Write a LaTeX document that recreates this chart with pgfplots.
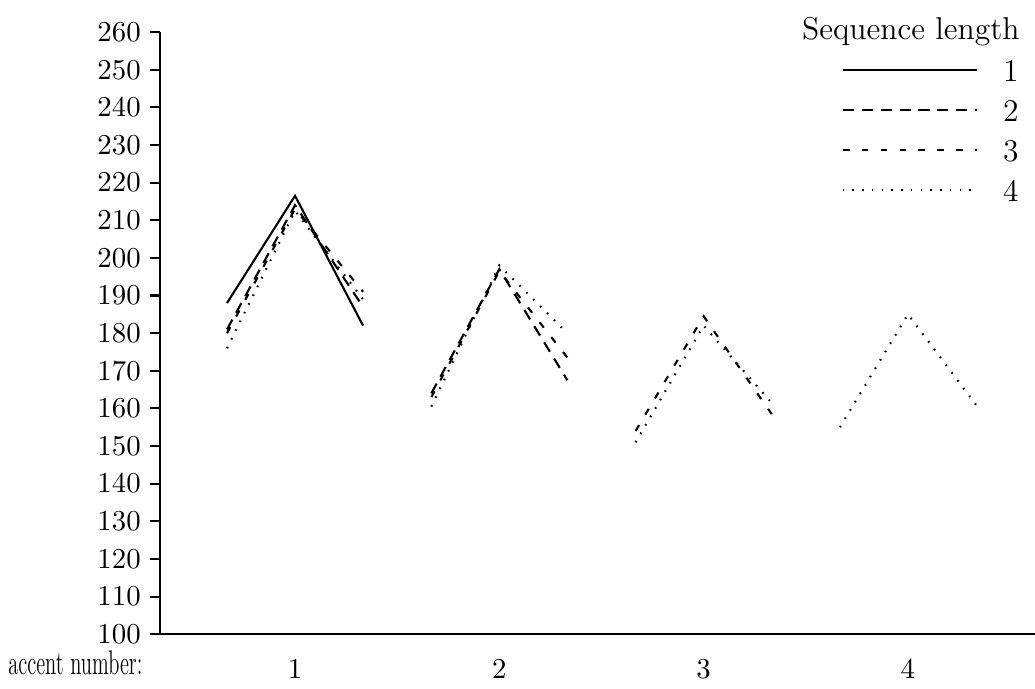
\documentclass[border=0pt]{standalone}
\usepackage{pgfplots}
\pgfplotsset{compat=1.18}
\begin{document}
\begin{tikzpicture}
\begin{axis}[
  scale only axis, width=332.5pt, height=228.8pt,
  xmin=0.339, xmax=4.622, ymin=100, ymax=260,
  axis x line=bottom, axis y line=left,
  axis line style={-, line width=0.8pt},
  ytick={100,110,...,260}, tick align=outside, major tick length=3.8pt,
  xtick={1,2,3,4}, x tick style={draw=none},
  y tick style={line width=0.8pt, black},
  tick label style={font=\fontsize{11}{13}\selectfont},
  xticklabel style={yshift=-2.6pt},
  clip=false,
  unbounded coords=jump,
  legend style={draw=none, fill=none, at={(rel axis cs:1,1)}, anchor=north east,
    xshift=-4pt, yshift=-8pt, inner sep=0pt, row sep=2.8pt, column sep=7.6pt,
    font=\fontsize{12}{14}\selectfont,
    nodes={inner sep=2pt, text height=8.4pt, text depth=0pt}},
  legend image code/.code={\draw[#1] (0pt,0pt) -- (51pt,0pt);},
  legend cell align=left,
]
\addplot[black, line width=0.8pt] coordinates {(0.667,188) (1,216.5) (1.333,182)};
\addlegendentry{1}
\addplot[black, line width=0.8pt, dash pattern=on 4.2pt off 3pt] coordinates {
 (0.667,181) (1,214) (1.333,187) (1.5,nan)
 (1.667,164) (2,197) (2.333,167.5)};
\addlegendentry{2}
\addplot[black, line width=0.8pt, dash pattern=on 2.6pt off 4.6pt] coordinates {
 (0.667,180) (1,213) (1.333,191) (1.5,nan)
 (1.667,163) (2,196.5) (2.333,173.5) (2.5,nan)
 (2.667,154) (3,184.5) (3.333,158.5)};
\addlegendentry{3}
\addplot[black, line width=0.8pt, dash pattern=on 0.6pt off 3.1pt] coordinates {
 (0.667,176) (1,212.5) (1.333,189) (1.5,nan)
 (1.667,160.5) (2,198) (2.333,180) (2.5,nan)
 (2.667,151) (3,182) (3.333,161.5) (3.5,nan)
 (3.667,155) (4,185) (4.333,161)};
\addlegendentry{4}
\coordinate (BL) at (rel axis cs:0,0);
\coordinate (TR) at (rel axis cs:1,1);
\node[anchor=base east, inner sep=0pt]
  at ([xshift=-6.5pt, yshift=-15.4pt]rel axis cs:0,0)
  {\scalebox{0.6}[1]{\fontsize{13}{15}\selectfont accent number:}};
\node[anchor=base east, inner sep=0pt, font=\fontsize{12}{14}\selectfont]
  at ([xshift=-5.7pt, yshift=-3pt]rel axis cs:1,1) {Sequence length};
\end{axis}
\pgfresetboundingbox
\useasboundingbox ([xshift=-60.8pt,yshift=-20.5pt]BL) rectangle ([yshift=12.2pt]TR);
\end{tikzpicture}
\end{document}
